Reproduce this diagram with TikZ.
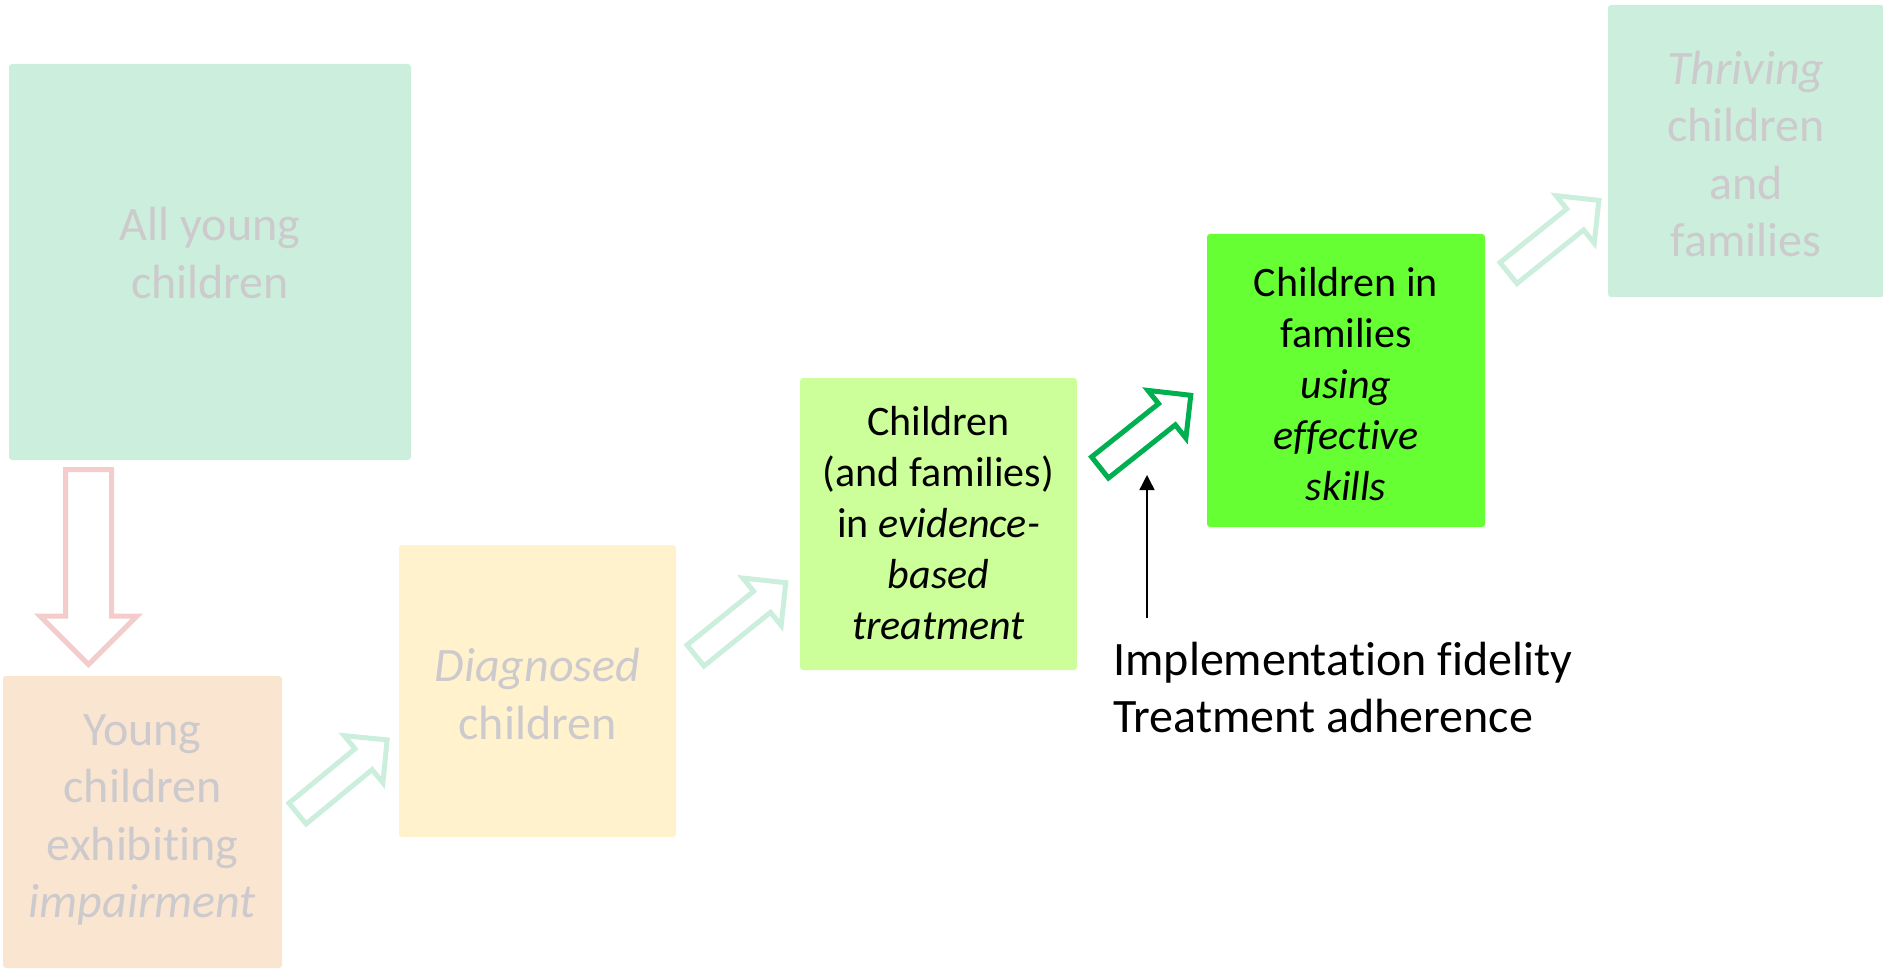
\documentclass[tikz,border=0pt]{standalone}
\usepackage{fontspec}
\setmainfont{Carlito}[Ligatures={NoCommon}]
\usetikzlibrary{arrows.meta}
\definecolor{mint}{RGB}{204,238,220}
\definecolor{peach}{RGB}{250,229,209}
\definecolor{lyellow}{RGB}{255,242,204}
\definecolor{lgreen}{RGB}{204,255,153}
\definecolor{bgreen}{RGB}{102,255,51}
\definecolor{dgreen}{RGB}{0,176,80}
\definecolor{pinkline}{RGB}{244,204,204}
\definecolor{faintgray}{RGB}{204,202,204}
\newcommand\blockarr[7]{%
  \draw[#1, shift={(#2)}, rotate=#3] (0,-#5/2) -- (#4-#7,-#5/2) -- (#4-#7,-#6/2) -- (#4,0)
    -- (#4-#7,#6/2) -- (#4-#7,#5/2) -- (0,#5/2) -- cycle;}
\begin{document}
\begin{tikzpicture}[x=0.5pt,y=-0.5pt,
  box/.style={rounded corners=1.5pt, inner sep=0pt},
  faded/.style={inner sep=0pt, align=center, text=faintgray, font=\fontsize{24}{28.8}\selectfont},
  strong/.style={inner sep=0pt, align=center, text=black, font=\fontsize{21}{25.5}\selectfont},
  barrow/.style={line width=2.5pt, line join=miter, fill=white},
  mintarrow/.style={barrow, draw=mint},
  pinkarrow/.style={barrow, draw=pinkline},
  greenarrow/.style={barrow, draw=dgreen}]
\useasboundingbox (0,0) rectangle (1883,973);
% boxes
\node[box, fill=mint, minimum width=201pt, minimum height=198pt] (all) at (210,262) {};
\node[box, fill=peach, minimum width=139.5pt, minimum height=146pt] (imp) at (142.5,822) {};
\node[box, fill=lyellow, minimum width=138.5pt, minimum height=146pt] (diag) at (537.5,691) {};
\node[box, fill=lgreen, minimum width=138.5pt, minimum height=146pt] (ebt) at (938.5,524) {};
\node[box, fill=bgreen, minimum width=139pt, minimum height=146.5pt] (skills) at (1346,380.5) {};
\node[box, fill=mint, minimum width=138pt, minimum height=146pt] (thrive) at (1746,151) {};
% box texts
\node[faded] (allt) at ([yshift=2pt]all.center) {\strut All young\\children\strut};
\node[faded] (impt) at ([yshift=1pt]imp.center) {\strut Young\\children\\exhibiting\\\textit{impairment}\strut};
\node[faded] (diagt) at ([yshift=-4pt]diag.center) {\strut\textit{Diagnosed}\\children\strut};
\node[strong] (ebtt) at ([yshift=-1.5pt]ebt.center) {\strut Children\\(and families)\\in \textit{evidence-}\\\textit{based}\\\textit{treatment}\strut};
\node[strong] (skillst) at ([yshift=-4pt]skills.center) {\strut Children in\\families\\\textit{using}\\\textit{effective}\\\textit{skills}\strut};
\node[faded] (thrivet) at ([yshift=-4pt]thrive.center) {\strut\textit{Thriving}\\children\\and\\families\strut};
% note text
\node[anchor=base west, align=left, inner sep=0pt, font=\fontsize{24}{28.5}\selectfont] (note) at (1113,732)
  {Implementation fidelity\\Treatment adherence};
% block arrows
\coordinate (t0) at (88.5,469.5);
\coordinate (t1) at (297.5,813.5);
\coordinate (t2) at (695.5,655.5);
\coordinate (t3) at (1100,467.5);
\coordinate (t4) at (1508.5,273);
\blockarr{pinkarrow}{t0}{-90}{195}{46}{97}{48.5}
\blockarr{mintarrow}{t1}{39.4}{116}{27}{61}{30.5}
\blockarr{mintarrow}{t2}{38.9}{116}{27}{61}{30.5}
\blockarr{greenarrow}{t3}{38.5}{116}{27}{61}{30.5}
\blockarr{mintarrow}{t4}{38.8}{116}{27}{61}{30.5}
% thin arrow
\coordinate (vs) at (1147,618);
\coordinate (ve) at (1147,475);
\draw[line width=0.7pt, -{Triangle[width=7.5pt,length=7.5pt]}] (vs) -- (ve);
\end{tikzpicture}
\end{document}
